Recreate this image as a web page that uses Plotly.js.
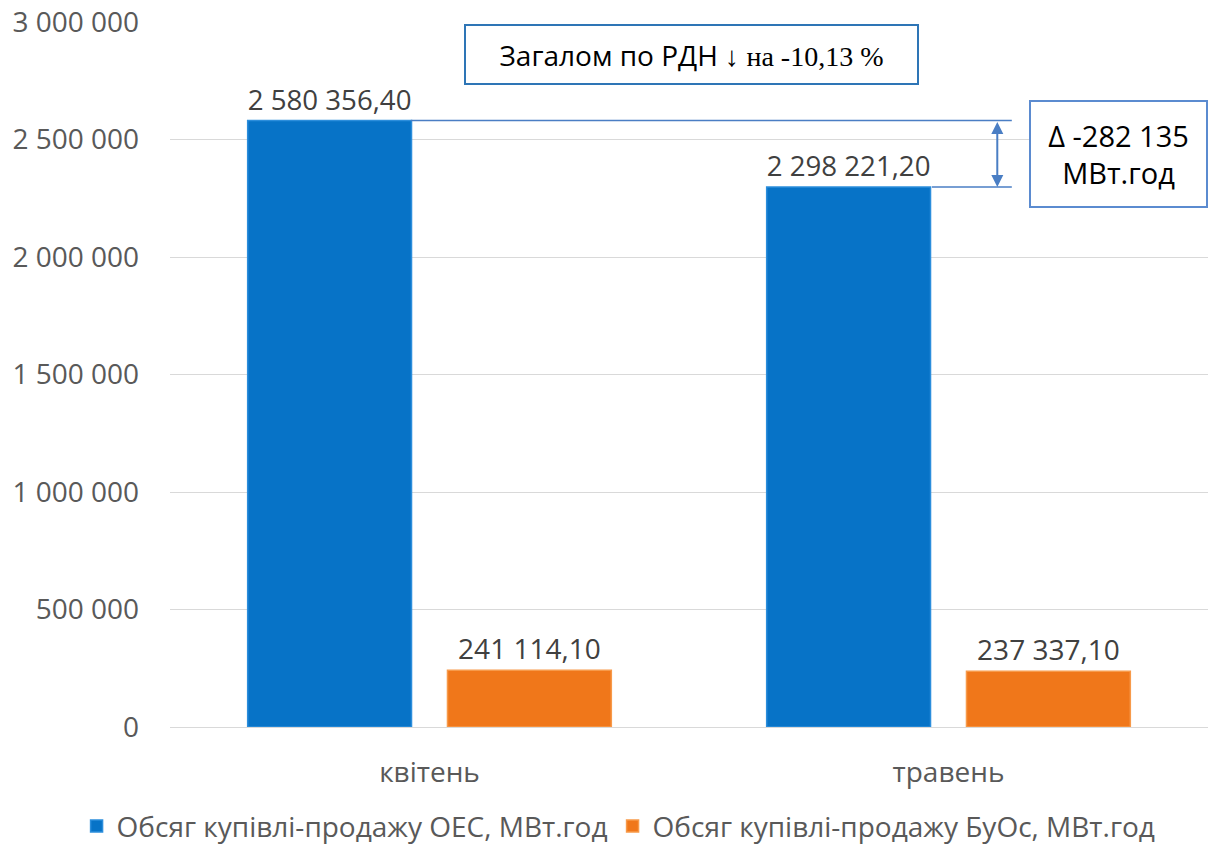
<!DOCTYPE html>
<html>
<head>
<meta charset="utf-8">
<script src="https://cdn.plot.ly/plotly-3.0.1.min.js"></script>
<style>
html,body{margin:0;padding:0;background:#fff;}
#chart{width:1208px;height:847px;}
</style>
</head>
<body>
<div id="chart"></div>
<script>
const categories = ['квітень', 'травень'];
const oesValues = [2580356.40, 2298221.20];
const buosValues = [241114.10, 237337.10];
const seriesNames = ['Обсяг купівлі-продажу ОЕС, МВт.год', 'Обсяг купівлі-продажу БуОс, МВт.год'];
const yTicks = [0, 500000, 1000000, 1500000, 2000000, 2500000, 3000000];

const totalApr = oesValues[0] + buosValues[0];
const totalMay = oesValues[1] + buosValues[1];
const pct = ((totalMay / totalApr - 1) * 100).toFixed(2).replace('.', ',');
const delta = Math.round(oesValues[1] - oesValues[0]);
const deltaStr = (delta < 0 ? '-' : '') + Math.abs(delta).toString().replace(/\B(?=(\d{3})+(?!\d))/g, ' ');

const FONT = 'Open Sans, Noto Sans, sans-serif';
const lineColor = '#4A7EC4';

const traces = [
  {
    type: 'bar', name: seriesNames[0], x: categories, y: oesValues,
    marker: {color: '#0773C7', line: {color: '#2C8EDC', width: 1.5}},
    texttemplate: '%{y:,.2f}', textposition: 'outside',
    textfont: {family: FONT, size: 28, color: '#404040'},
    cliponaxis: false, hoverinfo: 'none'
  },
  {
    type: 'bar', name: seriesNames[1], x: categories, y: buosValues,
    marker: {color: '#F0771A', line: {color: '#F79A4A', width: 1.5}},
    texttemplate: '%{y:,.2f}', textposition: 'outside',
    textfont: {family: FONT, size: 28, color: '#404040'},
    cliponaxis: false, hoverinfo: 'none'
  }
];

const layout = {
  width: 1208, height: 847,
  margin: {l: 170, r: 0, t: 22, b: 120, autoexpand: false},
  paper_bgcolor: '#fff', plot_bgcolor: '#fff',
  separators: ', ',
  font: {family: FONT, color: '#595959', size: 28},
  barmode: 'group', bargap: 0.23, bargroupgap: 0.18,
  showlegend: true,
  legend: {orientation: 'h', x: -0.09, xanchor: 'left', y: -0.141, yanchor: 'middle',
           font: {family: FONT, size: 28, color: '#595959'}, traceorder: 'normal', itemwidth: 30},
  xaxis: {
    type: 'category', showgrid: false, zeroline: false, showline: false, automargin: false,
    ticks: '', tickfont: {family: FONT, size: 28, color: '#595959'},
    ticklabelstandoff: 26
  },
  yaxis: {
    range: [0, 3000000], tickvals: yTicks, tickformat: ',d', automargin: false,
    showgrid: true, gridcolor: '#D9D9D9', gridwidth: 1,
    zeroline: true, zerolinecolor: '#D9D9D9', zerolinewidth: 1,
    showline: false, ticks: '',
    tickfont: {family: FONT, size: 28, color: '#595959'},
    ticklabelstandoff: 30
  },
  shapes: [
    {type: 'line', xref: 'paper', yref: 'y', x0: 0.232, x1: 0.811, y0: oesValues[0], y1: oesValues[0],
     line: {color: lineColor, width: 1.5}},
    {type: 'line', xref: 'paper', yref: 'y', x0: 0.734, x1: 0.811, y0: oesValues[1], y1: oesValues[1],
     line: {color: lineColor, width: 1.5}}
  ],
  annotations: [
    {
      xref: 'paper', yref: 'paper', x: 0.5024, y: 0.9546, xanchor: 'center', yanchor: 'middle',
      showarrow: false, width: 451, height: 57,
      text: 'Загалом по РДН ↓ <span style="font-family:Liberation Serif, Times New Roman, serif">на ' + pct + ' %</span>',
      font: {family: FONT, size: 28, color: '#000'},
      bordercolor: '#2E75B6', borderwidth: 2, bgcolor: '#fff', borderpad: 0
    },
    {
      xref: 'paper', yref: 'paper', x: 0.9135, y: 0.8128, xanchor: 'center', yanchor: 'middle',
      showarrow: false, width: 175, height: 104,
      text: 'Δ ' + deltaStr + '<br>МВт.год',
      font: {family: FONT, size: 29, color: '#000'},
      bordercolor: '#5B8BD0', borderwidth: 2, bgcolor: '#fff', borderpad: 0
    },
    {
      xref: 'paper', yref: 'y', x: 0.797, y: oesValues[1],
      axref: 'pixel', ayref: 'y', ax: 0, ay: oesValues[0],
      showarrow: true, arrowside: 'end+start', arrowhead: 2, arrowsize: 1.2,
      arrowwidth: 2, arrowcolor: lineColor, text: '', standoff: 0, startstandoff: 0
    }
  ]
};

Plotly.newPlot('chart', traces, layout, {displayModeBar: false, staticPlot: true});
</script>
</body>
</html>
